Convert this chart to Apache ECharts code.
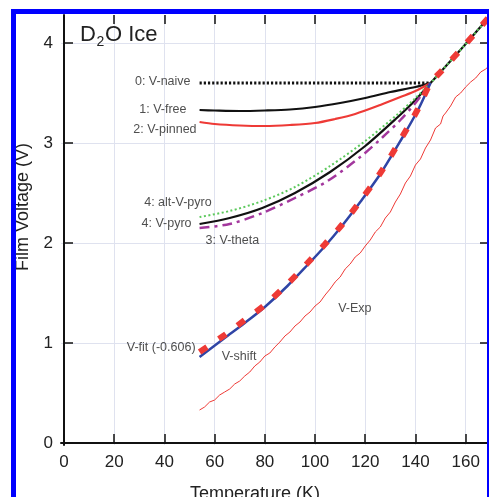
<!DOCTYPE html>
<html lang="en">
<head>
<meta charset="UTF-8">
<title>D2O Ice film voltage</title>
<script src="https://cdn.jsdelivr.net/npm/echarts@6/dist/echarts.min.js"></script>
<style>
  html, body { margin: 0; padding: 0; background: #fff; }
  #chart { width: 489px; height: 497px; }
</style>
</head>
<body>
<div id="chart"></div>
<script>
  // tick values
  const xTicks = [0, 20, 40, 60, 80, 100, 120, 140, 160]
  const yTicks = [0, 1, 2, 3, 4]

  // [temperature K, film voltage V]
  const vNaive = [[54, 3.6], [146, 3.6]]
  const vFree = [[54, 3.33], [60, 3.325], [70, 3.32], [80, 3.325], [90, 3.335], [100, 3.36], [110, 3.40], [120, 3.45], [130, 3.51], [140, 3.56], [146, 3.6]]
  const vPinned = [[54, 3.21], [60, 3.19], [70, 3.175], [80, 3.17], [90, 3.18], [100, 3.20], [108, 3.24], [116, 3.29], [126, 3.38], [134, 3.46], [140, 3.52], [146, 3.6]]
  const vAltPyro = [[54, 2.26], [66, 2.32], [79, 2.42], [92, 2.56], [106, 2.77], [120, 3.02], [133, 3.29], [140, 3.45], [146, 3.6]]
  const vPyro = [[54, 2.19], [66, 2.25], [79, 2.35], [92, 2.50], [106, 2.71], [120, 2.97], [133, 3.26], [140, 3.43], [146, 3.6]]
  const vTheta = [[54, 2.15], [66, 2.19], [79, 2.30], [92, 2.45], [105, 2.62], [118, 2.86], [127, 3.06], [134, 3.23], [140, 3.40], [146, 3.6]]
  const vShift = [[54, 0.86], [64, 1.05], [72, 1.20], [80, 1.36], [89, 1.57], [97, 1.78], [104, 1.97], [111, 2.18], [118, 2.41], [126, 2.69], [134, 3.02], [141, 3.33], [146, 3.6]]
  const vFit = [[54, 0.91], [64, 1.08], [72, 1.23], [80, 1.38], [89, 1.59], [97, 1.80], [104, 1.99], [111, 2.19], [118, 2.42], [126, 2.70], [134, 3.03], [141, 3.34], [146, 3.6]]
  const commonTail = [[146, 3.6], [150, 3.71], [160, 3.99], [170, 4.28]]
  const vExp = [
    [54, 0.33], [56, 0.36], [58, 0.41], [60, 0.43], [62, 0.48], [64, 0.51], [66, 0.54], [68, 0.59],
    [70, 0.62], [72, 0.67], [74, 0.71], [76, 0.77], [78, 0.81], [80, 0.87], [82, 0.90], [84, 0.96],
    [86, 1.01], [88, 1.07], [90, 1.11], [92, 1.17], [94, 1.21], [96, 1.27], [98, 1.31], [100, 1.37],
    [102, 1.41], [104, 1.48], [106, 1.54], [108, 1.61], [110, 1.66], [112, 1.74], [114, 1.79], [116, 1.86],
    [118, 1.90], [120, 1.97], [122, 2.03], [124, 2.11], [126, 2.16], [128, 2.25], [130, 2.31], [132, 2.41],
    [134, 2.49], [136, 2.60], [138, 2.67], [140, 2.78], [142, 2.84], [144, 2.95], [146, 3.03], [148, 3.15],
    [150, 3.19], [151, 3.27], [152, 3.30], [154, 3.37], [156, 3.46], [158, 3.50], [160, 3.56], [162, 3.61],
    [164, 3.65], [166, 3.71], [168, 3.74], [170, 3.79]
  ]

  // curve labels: [T, V, text]
  const leftLabels = [
    [50.4, 3.61, '0: V-naive'],
    [48.8, 3.33, '1: V-free'],
    [52.8, 3.13, '2: V-pinned'],
    [58.8, 2.40, '4: alt-V-pyro'],
    [50.8, 2.19, '4: V-pyro'],
    [52.4, 0.95, 'V-fit (-0.606)']
  ]
  const rightLabels = [
    [56.4, 2.02, '3: V-theta'],
    [62.8, 0.86, 'V-shift'],
    [109.2, 1.34, 'V-Exp']
  ]

  const chart = echarts.init(document.getElementById('chart'))

  function line(name, data, color, width, type, z, smooth) {
    return {
      name: name, type: 'line', data: data, z: z,
      showSymbol: false, symbol: 'none', smooth: smooth ? 0.3 : false,
      lineStyle: { color: color, width: width, type: type, cap: 'butt' },
      animation: false
    }
  }

  function labelSeries(list, pos) {
    return {
      type: 'scatter', symbolSize: 0, z: 20, silent: true,
      data: list.map(d => ({ value: [d[0], d[1]], name: d[2] })),
      label: {
        show: true, position: pos, distance: 0, formatter: p => p.name,
        fontFamily: 'Liberation Sans, Arial', fontSize: 12.5, color: '#222'
      },
      animation: false
    }
  }

  const black = '#111', red = '#ee3a36'
  const font = 'Liberation Sans, Arial'
  const axisFont = { fontFamily: font, fontSize: 17, color: '#222' }
  const tick = { inside: true, length: 9, lineStyle: { color: black, width: 1.5 } }

  const option = {
    backgroundColor: '#fff',
    grid: { left: 61, top: 15, right: 0, bottom: 52, containLabel: false },
    xAxis: [{
      type: 'value', min: -1.2, max: 169.3,
      axisLine: { show: true, lineStyle: { color: black, width: 2 } },
      axisTick: Object.assign({ customValues: xTicks }, tick),
      axisLabel: Object.assign({ customValues: xTicks, margin: 9 }, axisFont),
      splitLine: { show: true, lineStyle: { color: '#dfe2ef', width: 1 } }
    }, {
      type: 'value', position: 'top', min: -1.2, max: 169.3,
      axisLine: { show: false, onZero: false },
      axisTick: Object.assign({ customValues: xTicks }, tick),
      axisLabel: { show: false },
      splitLine: { show: false }
    }],
    yAxis: [{
      type: 'value', min: -0.02, max: 4.28,
      axisLine: { show: true, lineStyle: { color: black, width: 2 } },
      axisTick: Object.assign({ customValues: yTicks }, tick),
      axisLabel: Object.assign({ customValues: yTicks, margin: 8 }, axisFont),
      splitLine: { show: true, lineStyle: { color: '#dfe2ef', width: 1 } }
    }, {
      type: 'value', position: 'right', min: -0.02, max: 4.28,
      axisLine: { show: false, onZero: false },
      axisTick: Object.assign({ customValues: yTicks }, tick),
      axisLabel: { show: false },
      splitLine: { show: false }
    }],
    series: [
      line('V-Exp', vExp, red, 1, 'solid', 2, false),
      line('V-naive', vNaive, black, 2.8, [2.2, 2], 3, false),
      line('V-free', vFree, black, 2.2, 'solid', 4, true),
      line('V-pinned', vPinned, red, 2.2, 'solid', 4, true),
      line('V-pyro', vPyro.concat(commonTail.slice(1)), black, 2.2, 'solid', 5, true),
      line('alt-V-pyro', vAltPyro.concat(commonTail.slice(1)), '#5cc95c', 2, [2, 2.5], 6, true),
      line('V-theta', vTheta, '#a3379d', 2.5, [10, 5, 3, 5], 6, true),
      line('V-shift', vShift, '#2f45a6', 2.5, 'solid', 7, true),
      line('V-fit', vFit.concat(commonTail.slice(1)), red, 6, [9, 14], 8, true),
      labelSeries(leftLabels, 'left'),
      labelSeries(rightLabels, 'right')
    ],
    graphic: [
      { type: 'text', x: 80, y: 35, z: 30, style: { text: 'D', fontFamily: font, fontSize: 22, fill: '#222', verticalAlign: 'middle' } },
      { type: 'text', x: 96.5, y: 42, z: 30, style: { text: '2', fontFamily: font, fontSize: 14, fill: '#222', verticalAlign: 'middle' } },
      { type: 'text', x: 105, y: 35, z: 30, style: { text: 'O Ice', fontFamily: font, fontSize: 22, fill: '#222', verticalAlign: 'middle' } },
      {
        type: 'text', x: 23, y: 207, rotation: Math.PI / 2, z: 30,
        style: { text: 'Film Voltage (V)', fontFamily: font, fontSize: 18, fill: '#222', align: 'center', verticalAlign: 'middle' }
      },
      {
        type: 'text', x: 255, y: 494, z: 30,
        style: { text: 'Temperature (K)', fontFamily: font, fontSize: 18, fill: '#222', align: 'center', verticalAlign: 'middle' }
      },
      // blue selection frame around the figure
      { type: 'rect', z: 40, shape: { x: 11, y: 9, width: 478, height: 5 }, style: { fill: '#0000ff' } },
      { type: 'rect', z: 40, shape: { x: 11, y: 9, width: 5, height: 488 }, style: { fill: '#0000ff' } },
      { type: 'rect', z: 40, shape: { x: 487, y: 9, width: 2, height: 488 }, style: { fill: '#0000ff' } }
    ]
  }

  chart.setOption(option)
</script>
</body>
</html>
